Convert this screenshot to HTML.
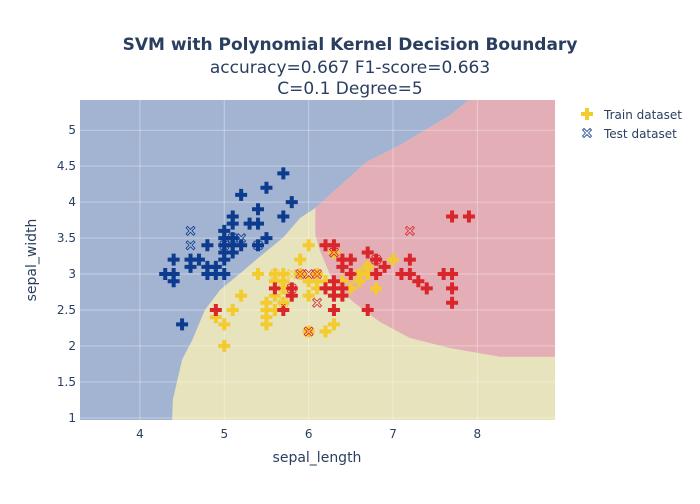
<!DOCTYPE html>
<html><head><meta charset="utf-8"><style>
body{margin:0;background:#fff;font-family:"DejaVu Sans","Liberation Sans",sans-serif}
svg text{fill:#2a3f5f;font-family:"DejaVu Sans","Liberation Sans",sans-serif}
</style></head><body>
<svg id="chart" width="700" height="500" xmlns="http://www.w3.org/2000/svg">
<defs><clipPath id="clip"><rect x="80" y="100" width="475" height="320"/></clipPath></defs>
<g id="bg" clip-path="url(#clip)"></g>
<g id="grid" clip-path="url(#clip)"></g>
<g id="pts"></g>
<g id="ticks"></g>
<text x="350" y="50" text-anchor="middle" font-size="17" font-weight="bold">SVM with Polynomial Kernel Decision Boundary</text>
<text x="350" y="73" text-anchor="middle" font-size="17">accuracy=0.667 F1-score=0.663</text>
<text x="350" y="94" text-anchor="middle" font-size="17">C=0.1 Degree=5</text>
<text x="317" y="462" text-anchor="middle" font-size="14">sepal_length</text>
<text transform="translate(36,260) rotate(-90)" text-anchor="middle" font-size="14">sepal_width</text>
<g><g id="lg1"></g><text x="604" y="119" font-size="12">Train dataset</text></g>
<g><g id="lg2"></g><text x="604" y="138" font-size="12">Test dataset</text></g>
</svg>
<script>
const xTicks=[4,5,6,7,8];
const yTicks=[1,1.5,2,2.5,3,3.5,4,4.5,5];
const blueYellowBoundary=[[4.38,0.9],[4.39,1.25],[4.50,1.81],[4.62,2.08],[4.77,2.5],[4.95,2.78],[5.19,3.01],[5.42,3.24],[5.70,3.51],[5.90,3.78],[6.08,3.92],[6.29,4.14],[6.69,4.56],[7.08,4.79],[7.68,5.21],[7.98,5.5]];
const redBoundary=[[6.08,3.92],[6.08,3.54],[6.14,3.31],[6.29,2.89],[6.53,2.61],[6.85,2.33],[7.20,2.11],[7.68,1.97],[8.27,1.85],[9.0,1.85]];
const blueTrain=[[4.3,3.0],[4.4,3.0],[4.4,2.9],[4.4,3.2],[4.5,2.3],[4.6,3.1],[4.6,3.2],[4.7,3.2],[4.8,3.0],[4.8,3.1],[4.8,3.4],[4.9,3.0],[4.9,3.1],[5.0,3.0],[5.0,3.2],[5.0,3.3],[5.0,3.4],[5.0,3.5],[5.0,3.6],[5.1,3.3],[5.1,3.4],[5.1,3.5],[5.1,3.7],[5.1,3.8],[5.2,3.4],[5.2,4.1],[5.3,3.7],[5.4,3.4],[5.4,3.7],[5.4,3.9],[5.5,3.5],[5.5,4.2],[5.7,3.8],[5.7,4.4],[5.8,4.0]];
const blueTest=[[4.6,3.6],[4.6,3.4],[5.1,3.5],[5.2,3.5],[5.4,3.4],[5.0,3.4]];
const yellowTrain=[[4.9,2.4],[5.0,2.0],[5.0,2.3],[5.1,2.5],[5.2,2.7],[5.4,3.0],[5.5,2.3],[5.5,2.4],[5.5,2.5],[5.5,2.6],[5.6,2.5],[5.6,2.7],[5.6,2.9],[5.6,3.0],[5.7,2.6],[5.7,2.8],[5.7,2.9],[5.7,3.0],[5.8,2.7],[5.9,3.0],[5.9,3.2],[6.0,2.2],[6.0,2.7],[6.0,2.9],[6.0,3.4],[6.1,2.8],[6.1,2.9],[6.1,3.0],[6.2,2.2],[6.2,2.9],[6.3,2.3],[6.3,2.5],[6.3,3.3],[6.4,2.9],[6.4,3.2],[6.5,2.8],[6.6,2.9],[6.6,3.0],[6.7,3.0],[6.7,3.1],[6.8,2.8],[6.9,3.1],[7.0,3.2]];
const yellowTest=[[5.7,2.8],[5.6,3.0],[5.7,2.6],[6.0,2.2],[6.6,3.0],[6.7,3.1],[5.8,3.0]];
const redTrain=[[4.9,2.5],[5.6,2.8],[5.7,2.5],[5.8,2.7],[5.8,2.8],[6.2,3.4],[6.3,3.4],[6.3,2.5],[6.3,2.7],[6.3,2.8],[6.3,2.9],[6.4,2.7],[6.4,2.8],[6.4,3.1],[6.4,3.2],[6.5,3.0],[6.5,3.2],[6.7,2.5],[6.7,3.3],[6.8,3.0],[6.8,3.2],[6.9,3.1],[7.1,3.0],[7.2,3.0],[7.2,3.2],[7.3,2.9],[7.4,2.8],[7.6,3.0],[7.7,3.0],[7.7,2.8],[7.7,2.6],[7.7,3.8],[7.9,3.8],[6.2,2.8]];
const redTest=[[6.1,2.6],[5.8,2.8],[6.3,3.3],[6.0,3.0],[6.8,3.2],[7.2,3.6],[6.1,3.0],[6.0,2.2],[5.9,3.0]];
const X0=3.29,X1=8.92,Y0=0.97,Y1=5.42,L=80,R=555,T=100,B=420;
const sx=v=>L+(v-X0)/(X1-X0)*(R-L), sy=v=>B-(v-Y0)/(Y1-Y0)*(B-T);
const NS='http://www.w3.org/2000/svg';
function mk(tag,attrs,parent){const e=document.createElementNS(NS,tag);for(const k in attrs)e.setAttribute(k,attrs[k]);parent.appendChild(e);return e;}
const bg=document.getElementById('bg');
const r=mk('rect',{x:L,y:T,width:R-L,height:B-T,fill:'#e7e3bd'},bg);


const pb=blueYellowBoundary.map(p=>sx(p[0])+','+sy(p[1])).join(' ');
const bp=mk('polygon',{points:'0,430 '+pb+' 0,90',fill:'#a3b4d2'},bg);


const upper=blueYellowBoundary.filter(p=>p[0]>=6.08).map(p=>sx(p[0])+','+sy(p[1]));
const rp=mk('polygon',{points:upper.join(' ')+' 600,90 600,'+sy(1.85)+' '+redBoundary.slice().reverse().map(p=>sx(p[0])+','+sy(p[1])).join(' '),fill:'#e3aeb5'},bg);


const grid=document.getElementById('grid'),ticks=document.getElementById('ticks');
xTicks.forEach(t=>{
 const g=mk('line',{x1:sx(t),x2:sx(t),y1:T,y2:B,stroke:'#fff','stroke-opacity':0.35,'stroke-width':1},grid);
 
 
 const tx=mk('text',{x:sx(t),y:438,'text-anchor':'middle','font-size':12},ticks);tx.textContent=t;
 
 
});
yTicks.forEach(t=>{
 const g=mk('line',{x1:L,x2:R,y1:sy(t),y2:sy(t),stroke:'#fff','stroke-opacity':0.35,'stroke-width':1},grid);
 
 
 const tx=mk('text',{x:76,y:sy(t)+4,'text-anchor':'end','font-size':12},ticks);tx.textContent=t;
 
 
});
const pts=document.getElementById('pts');
function plus(x,y,c,parent){return mk('path',{d:`M${x-6},${y-2}h4v-4h4v4h4v4h-4v4h-4v-4h-4z`,fill:c},parent);}
function xopen(x,y,c,parent){return mk('path',{d:`M${x-4.5},${y-3}l1.5,-1.5l3,3l3,-3l1.5,1.5l-3,3l3,3l-1.5,1.5l-3,-3l-3,3l-1.5,-1.5l3,-3z`,fill:'none',stroke:c,'stroke-width':0.8},parent);}
[[blueTrain,'#0d3b8e'],[yellowTrain,'#f3cb2e'],[redTrain,'#d9262b']].forEach(([arr,c])=>arr.forEach(p=>{
 const e=plus(sx(p[0]),sy(p[1]),c,pts);
 
 
}));
[[blueTest,'#0d3b8e'],[yellowTest,'#f3cb2e'],[redTest,'#d9262b']].forEach(([arr,c])=>arr.forEach(p=>{
 const e=xopen(sx(p[0]),sy(p[1]),c,pts);
 
 
}));
const l1=plus(587,114,'#f3cb2e',document.getElementById('lg1'));


const l2=xopen(587,133,'#0d3b8e',document.getElementById('lg2'));


</script>
</body></html>
